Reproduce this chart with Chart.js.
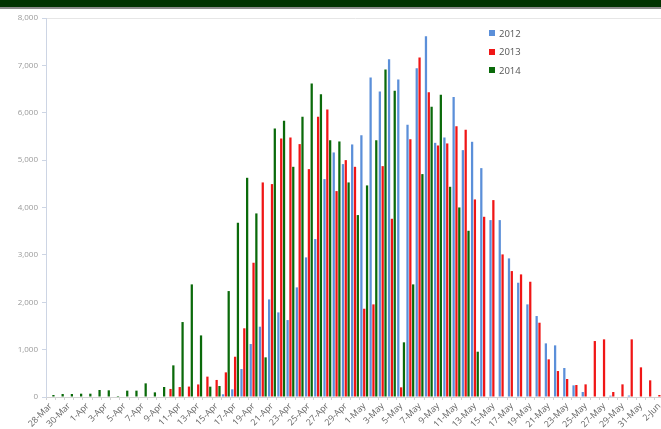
<!DOCTYPE html>
<html>
<head>
<meta charset="utf-8">
<script src="https://cdn.jsdelivr.net/npm/chart.js@4.4.1/dist/chart.umd.min.js"></script>
<style>
    html, body { margin: 0; padding: 0; width: 661px; height: 429px; overflow: hidden; background: #fff; }
    #band { position: absolute; left: 0; top: 0; width: 661px; height: 7px; background: #013301; border-bottom: 2px solid #8c8c8c; z-index: 2; }
    #wrap { position: absolute; left: 0; top: 0; width: 668px; height: 429px; }
    #legend { position: absolute; left: 489px; top: 24px; font: 9.5px "Open Sans", sans-serif; color: #555; z-index: 2; }
    #legend div { height: 18.5px; display: flex; align-items: center; }
    #legend span { display: inline-block; width: 6px; height: 6px; margin-right: 4px; }
</style>
</head>
<body>
<div id="band"></div>
<div id="wrap"><canvas id="chart"></canvas></div>
<div id="legend"></div>
<script>
const days = [
    '28-Mar', '29-Mar', '30-Mar', '31-Mar',
    '1-Apr', '2-Apr', '3-Apr', '4-Apr', '5-Apr', '6-Apr', '7-Apr', '8-Apr', '9-Apr', '10-Apr',
    '11-Apr', '12-Apr', '13-Apr', '14-Apr', '15-Apr', '16-Apr', '17-Apr', '18-Apr', '19-Apr', '20-Apr',
    '21-Apr', '22-Apr', '23-Apr', '24-Apr', '25-Apr', '26-Apr', '27-Apr', '28-Apr', '29-Apr', '30-Apr',
    '1-May', '2-May', '3-May', '4-May', '5-May', '6-May', '7-May', '8-May', '9-May', '10-May',
    '11-May', '12-May', '13-May', '14-May', '15-May', '16-May', '17-May', '18-May', '19-May', '20-May',
    '21-May', '22-May', '23-May', '24-May', '25-May', '26-May', '27-May', '28-May', '29-May', '30-May',
    '31-May', '1-Jun', '2-Jun'
]

const y2012 = [
    null, null, null, null, null, null, null, null, null, null,
    null, null, null, null, null, null, null, null, null, 57,
    162, 590, 1118, 1484, 2060, 1786, 1624, 2314, 2947, 3333,
    4599, 5162, 4916, 5331, 5527, 6744, 6449, 7131, 6702, 5745,
    6941, 7616, 5365, 5478, 6335, 5211, 5387, 4831, 3734, 3734,
    2926, 2412, 1955, 1709, 1132, 1090, 612, 246, 105, 0,
    0, 28, 0, 30, 0, 0, 0
]

const y2013 = [
    null, null, null, null, null, null, null, null, null, null,
    null, null, null, 170, 210, 220, 265, 430, 360, 520,
    850, 1450, 2834, 4529, 4494, 5457, 5478, 5338, 4810, 5914,
    6069, 4346, 5000, 4859, 1863, 1955, 4873, 3762, 204, 5443,
    7166, 6435, 5309, 5352, 5717, 5640, 4170, 3804, 4156, 3010,
    2658, 2588, 2433, 1568, 795, 548, 380, 253, 267, 1181,
    1217, 105, 267, 1217, 626, 352, 42
]

const y2014 = [
    42, 63, 63, 70, 70, 148, 141, 21, 134, 134,
    288, 98, 211, 668, 1582, 2377, 1300, 218, 232, 2236,
    3678, 4627, 3875, 837, 5668, 5830, 4859, 5914, 6618, 6392,
    5422, 5394, 4529, 3840, 4466, 5422, 6913, 6462, 1154, 2377,
    4705, 6125, 6378, 4437, 4001, 3509, 956, null, null, null,
    null, null, null, null, null, null, null, null, null, null,
    null, null, null, null, null, null, null
]

const series = [
    { label: '2012', data: y2012, color: '#5b8fd9' },
    { label: '2013', data: y2013, color: '#f01616' },
    { label: '2014', data: y2014, color: '#0a6a0a' }
]

const chart = new Chart(document.getElementById('chart'), {
    type: 'bar',
    data: {
        labels: days,
        datasets: series.map(s => ({
            label: s.label,
            data: s.data,
            backgroundColor: s.color,
            categoryPercentage: 0.92,
            barPercentage: 0.8
        }))
    },
    options: {
        responsive: true,
        maintainAspectRatio: false,
        animation: false,
        layout: { padding: { top: 18, right: 4, left: 0, bottom: 0 } },
        plugins: {
            legend: { display: false },
            tooltip: { enabled: false }
        },
        scales: {
            x: {
                afterFit: (scale) => { scale.height = 32 },
                border: { color: '#d2d2d2' },
                grid: { drawOnChartArea: false, tickLength: 3, color: '#d2d2d2' },
                ticks: {
                    autoSkip: false,
                    maxRotation: 45,
                    minRotation: 45,
                    padding: 1,
                    color: '#666',
                    font: { size: 8.8, family: 'Open Sans' },
                    callback: (v, i) => i % 2 === 0 ? days[i] : ''
                }
            },
            y: {
                min: 0,
                max: 8000,
                afterFit: (scale) => { scale.width = 46 },
                border: { color: '#cdd5e4' },
                grid: {
                    color: (c) => c.tick && c.tick.value === 8000 ? '#e6e6e6' : 'rgba(0,0,0,0)',
                    tickColor: '#cdd5e4',
                    tickLength: 4
                },
                ticks: {
                    stepSize: 1000,
                    padding: 4,
                    color: '#9a9a9a',
                    font: { size: 8, family: 'Open Sans' },
                    callback: (v) => v.toLocaleString('en-US')
                }
            }
        }
    }
})

const legend = document.getElementById('legend')
series.forEach(s => {
    const row = document.createElement('div')
    row.innerHTML = '<span style="background:' + s.color + '"></span>' + s.label
    legend.appendChild(row)
})
</script>
</body>
</html>
